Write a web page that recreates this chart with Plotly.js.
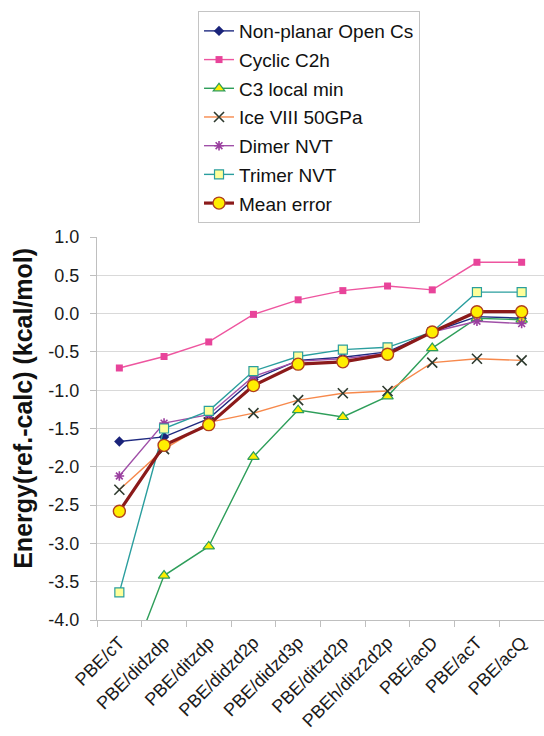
<!DOCTYPE html>
<html>
<head>
<meta charset="utf-8">
<script src="https://cdn.plot.ly/plotly-3.0.1.min.js"></script>
<style>
html,body{margin:0;padding:0;background:#fff;}
#chart{width:544px;height:736px;}
</style>
</head>
<body>
<div id="chart"></div>
<script>
var categories = ['PBE/cT','PBE/didzdp','PBE/ditzdp','PBE/didzd2p','PBE/didzd3p','PBE/ditzd2p','PBEh/ditz2d2p','PBE/acD','PBE/acT','PBE/acQ'];
var openCs    = [-1.67, -1.61, -1.37, -0.86, -0.61, -0.57, -0.50, -0.24, -0.04, -0.06];
var cyclicC2h = [-0.71, -0.56, -0.37, -0.01, 0.18, 0.30, 0.36, 0.31, 0.67, 0.67];
var c3LocalMin = [-4.93, -3.42, -3.04, -1.87, -1.26, -1.35, -1.08, -0.45, -0.06, -0.08];
var iceVIII   = [-2.30, -1.77, -1.42, -1.30, -1.13, -1.04, -1.01, -0.64, -0.59, -0.61];
var dimerNVT  = [-2.12, -1.43, -1.32, -0.82, -0.62, -0.59, -0.52, -0.24, -0.10, -0.13];
var trimerNVT = [-3.64, -1.50, -1.27, -0.75, -0.56, -0.47, -0.44, -0.24, 0.28, 0.28];
var meanError = [-2.58, -1.72, -1.45, -0.94, -0.66, -0.63, -0.53, -0.24, 0.025, 0.025];
var yTickVals = [1.0, 0.5, 0.0, -0.5, -1.0, -1.5, -2.0, -2.5, -3.0, -3.5, -4.0];
var yTickText = ['1.0','0.5','0.0','-0.5','-1.0','-1.5','-2.0','-2.5','-3.0','-3.5','-4.0'];

var FONT = 'Liberation Sans, Arial, sans-serif';

function tr(name, y, lineColor, lineWidth, marker, grp){
  return {type:'scatter', mode:'lines+markers', name:name, x:categories, y:y,
    line:{color:lineColor, width:lineWidth}, marker:marker, legendgroup:grp, cliponaxis:true};
}

var data = [
  tr('Non-planar Open Cs', openCs, '#1f2a80', 1.4,
     {symbol:'diamond', size:8, color:'#1a237a', line:{width:0}}, 'a'),
  tr('Cyclic C2h', cyclicC2h, '#ee559f', 1.4,
     {symbol:'square', size:7, color:'#e8449a', line:{width:0}}, 'b'),
  tr('C3 local min', c3LocalMin, '#2e9e5a', 1.4,
     {symbol:'triangle-up', size:10, color:'#ffee00', line:{width:1.2, color:'#2e9e5a'}}, 'c'),
  tr('Ice VIII 50GPa', iceVIII, '#f7894c', 1.4,
     {symbol:'x-thin', size:10, color:'#2e3a2e', line:{width:1.6, color:'#2e3a2e'}}, 'd'),
  tr('Dimer NVT', dimerNVT, '#a050a8', 1.4,
     {symbol:'asterisk', size:8, color:'#9a3f9f', line:{width:1.6, color:'#9a3f9f'}}, 'e'),
  tr('Trimer NVT', trimerNVT, '#2a9e9e', 1.4,
     {symbol:'square', size:9, color:'#ffff99', line:{width:1.2, color:'#2a9e9e'}}, 'f'),
  tr('Mean error', meanError, '#8b1a1a', 3.2,
     {symbol:'circle', size:12, color:'#ffee00', line:{width:1.4, color:'#b0401e'}}, 'g')
];

var layout = {
  width:544, height:736,
  margin:{l:97, r:0, t:237, b:116, pad:0},
  paper_bgcolor:'#fff', plot_bgcolor:'#fff',
  font:{family:FONT, size:17, color:'#1a1a1a'},
  showlegend:true,
  legend:{x:0.226, xanchor:'left', y:1.59, yanchor:'top',
    bgcolor:'#fff', bordercolor:'#c4c4c4', borderwidth:1,
    font:{family:FONT, size:19, color:'#111'}, tracegroupgap:1, traceorder:'grouped'},
  xaxis:{type:'category', showgrid:false, zeroline:false,
    showline:true, linecolor:'#bfbfbf', linewidth:1,
    ticks:'outside', tickson:'boundaries', ticklen:6, tickcolor:'#bfbfbf',
    tickangle:-45, ticklabelstandoff:4, tickfont:{family:FONT, size:18, color:'#1a1a1a'},
    range:[-0.5, 9.5]},
  yaxis:{range:[-4, 1], tickvals:yTickVals, ticktext:yTickText,
    showgrid:true, gridcolor:'#d9d9d9', gridwidth:1, zeroline:false,
    showline:true, linecolor:'#bfbfbf', linewidth:1,
    ticks:'outside', ticklen:6, tickcolor:'#bfbfbf', ticklabelstandoff:7,
    tickfont:{family:FONT, size:18, color:'#1a1a1a'}},
  annotations:[{text:'<b>Energy(ref.-calc) (kcal/mol)</b>', xref:'paper', yref:'paper',
    x:-0.166, y:0.5535, xanchor:'center', yanchor:'middle', textangle:-90, showarrow:false,
    font:{family:FONT, size:25, color:'#111'}}]
};

Plotly.newPlot('chart', data, layout, {displayModeBar:false, staticPlot:true});
</script>
</body>
</html>
